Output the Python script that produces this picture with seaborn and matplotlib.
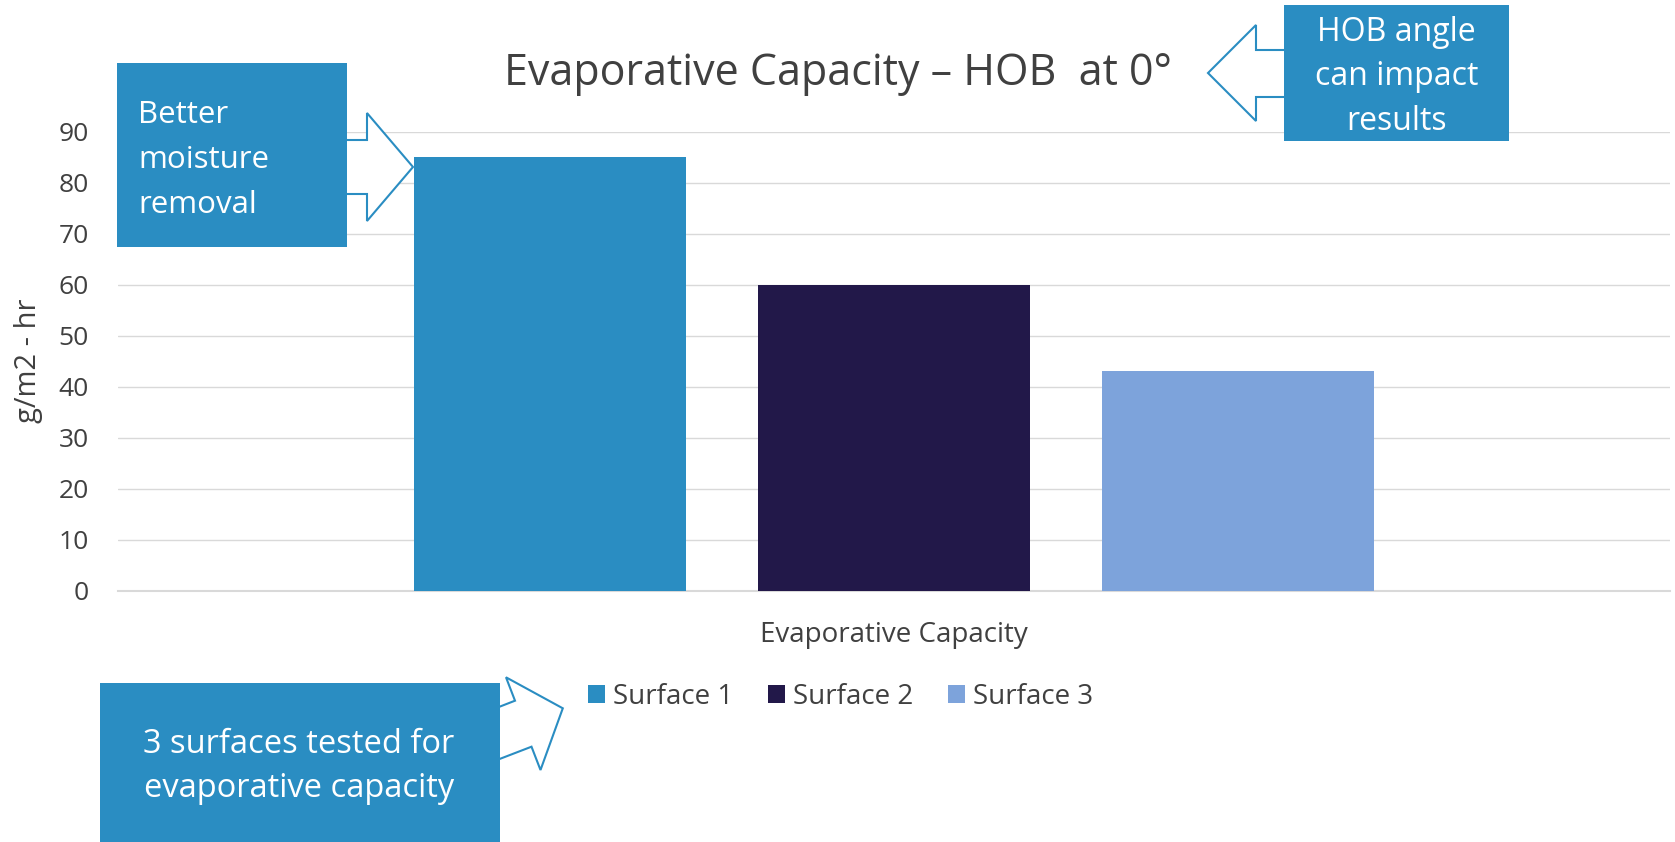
import matplotlib
matplotlib.use("Agg")
import matplotlib.pyplot as plt
from matplotlib.patches import Rectangle, Polygon
import seaborn as sns
import pandas as pd

# ---- data ----
categories = ["Evaporative Capacity"]
surfaces = ["Surface 1", "Surface 2", "Surface 3"]
values = [85, 60, 43]
y_ticks = [0, 10, 20, 30, 40, 50, 60, 70, 80, 90]
title = "Evaporative Capacity \u2013 HOB  at 0\u00b0"
y_label = "g/m2 - hr"
bar_colors = ["#2A8DC2", "#221849", "#7DA3DB"]
box_color = "#2A8DC2"
text_color = "#404040"

df = pd.DataFrame({
    "category": categories * len(surfaces),
    "surface": surfaces,
    "value": values,
})

sns.set_style("white")
plt.rcParams["font.family"] = ["Open Sans", "DejaVu Sans"]

W, H = 1675, 842
fig = plt.figure(figsize=(W / 100, H / 100), dpi=100)
fig.patch.set_facecolor("white")

# plot area in pixels (top-left origin)
px_left, px_right, px_top, px_bottom = 118, 1670, 131.7, 590.7
ax = fig.add_axes([px_left / W, 1 - px_bottom / H,
                   (px_right - px_left) / W, (px_bottom - px_top) / H])

sns.barplot(data=df, x="category", y="value", hue="surface",
            palette=bar_colors, width=0.665, gap=0.212,
            linewidth=0, saturation=1, ax=ax, zorder=3)

ax.set_xlim(-0.5, 0.5)
ax.set_ylim(0, 90)
ax.set_yticks(y_ticks)
ax.yaxis.grid(True, color="#d9d9d9", linewidth=1.0, zorder=0)
ax.xaxis.grid(False)
for s in ["left", "right", "top"]:
    ax.spines[s].set_visible(False)
ax.spines["bottom"].set_color("#d9d9d9")
ax.spines["bottom"].set_linewidth(1.5)
ax.tick_params(axis="y", length=0, pad=21, labelsize=19, labelcolor=text_color)
ax.tick_params(axis="x", length=0, pad=22, labelsize=20, labelcolor=text_color)
ax.set_xlabel("")
ax.set_ylabel(y_label, fontsize=21, color=text_color)
ax.yaxis.set_label_coords((43 - px_left) / (px_right - px_left), 0.5)

handles, labels = ax.get_legend_handles_labels()
if ax.legend_ is not None:
    ax.legend_.remove()
fig.legend(handles, labels, loc="center", bbox_to_anchor=(841 / W, 1 - 697 / H),
           ncol=3, frameon=False, fontsize=20, labelcolor=text_color,
           handlelength=0.6, handleheight=0.6, handletextpad=0.3,
           columnspacing=1.25)

fig.text(837.5 / W, 1 - 85 / H, title, ha="center", va="baseline",
         fontsize=31, color=text_color)

# ---- overlay annotations (pixel coordinates) ----
ov = fig.add_axes([0, 0, 1, 1], zorder=10)
ov.set_xlim(0, W)
ov.set_ylim(H, 0)
ov.axis("off")
ov.patch.set_alpha(0)

arrow_kw = dict(closed=True, facecolor="white", edgecolor=box_color,
                linewidth=1.5, joinstyle="miter")
ov.add_patch(Polygon([(322, 140), (367, 140), (367, 113), (413, 167),
                      (367, 221), (367, 194), (322, 194)], **arrow_kw))
ov.add_patch(Polygon([(1300, 50), (1256, 50), (1256, 25), (1208, 73),
                      (1256, 121), (1256, 97), (1300, 97)], **arrow_kw))
ov.add_patch(Polygon([(485, 712.4), (515, 700.7), (506, 677.3), (562.8, 708.3),
                      (540.5, 770), (531.5, 746.7), (485, 764.6)], **arrow_kw))

box_kw = dict(facecolor=box_color, edgecolor="none")
ov.add_patch(Rectangle((116.5, 62.7), 230.5, 184.3, **box_kw))
ov.add_patch(Rectangle((1284, 5), 225, 136, **box_kw))
ov.add_patch(Rectangle((100, 683), 400, 170, **box_kw))

tk = dict(color="white", va="baseline")
for line, yb in zip(["Better", "moisture", "removal"], [123, 168.3, 213.3]):
    ov.text(138, yb, line, ha="left", fontsize=22.5, **tk)
for line, yb in zip(["HOB angle", "can impact", "results"], [40.7, 85, 129.5]):
    ov.text(1396.5, yb, line, ha="center", fontsize=23, **tk)
for line, yb in zip(["3 surfaces tested for", "evaporative capacity"], [753, 796.7]):
    ov.text(299, yb, line, ha="center", fontsize=23.5, **tk)

fig.savefig("out.png", dpi=100, facecolor="white")
